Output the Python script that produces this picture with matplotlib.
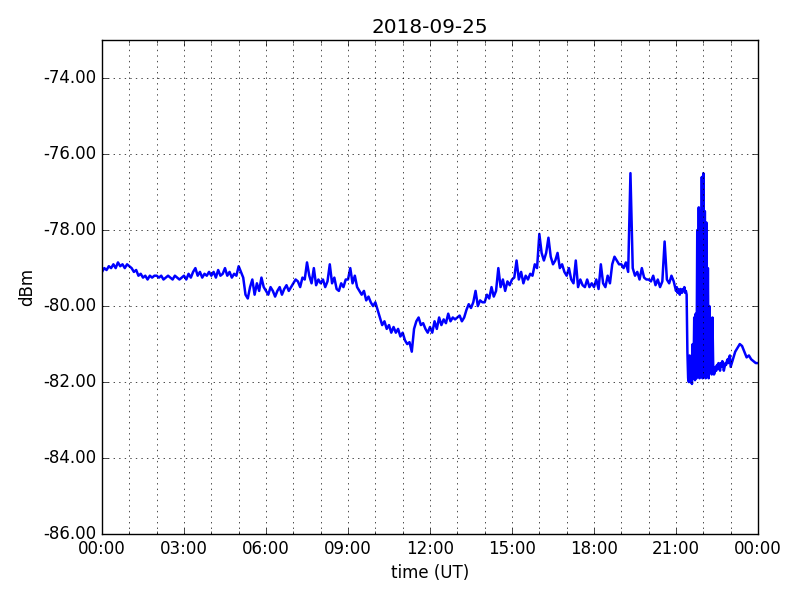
import numpy as np
import matplotlib
matplotlib.use('Agg')
import matplotlib.pyplot as plt
from matplotlib.ticker import MultipleLocator, FuncFormatter, FormatStrFormatter

plt.style.use('classic')

title = '2018-09-25'

# signal level per hour of the day (dBm), sampled evenly within each hour
hourly = [
    [-79.1, -79.0, -79.05, -78.95, -79.0, -78.9, -79.0, -78.85, -78.95, -78.9, -79.0, -78.9],
    [-78.95, -79.0, -79.1, -79.05, -79.2, -79.15, -79.25, -79.2, -79.3, -79.2, -79.25, -79.2],
    [-79.2, -79.25, -79.2, -79.3, -79.25, -79.2, -79.25, -79.3, -79.2, -79.25, -79.3, -79.25],
    [-79.2, -79.3, -79.15, -79.25, -79.1, -79.0, -79.2, -79.1, -79.25, -79.15, -79.2, -79.1],
    [-79.2, -79.1, -79.25, -79.05, -79.2, -79.15, -79.0, -79.2, -79.1, -79.25, -79.15, -79.2],
    [-78.95, -79.1, -79.25, -79.7, -79.8, -79.5, -79.3, -79.7, -79.4, -79.6, -79.25, -79.5],
    [-79.6, -79.7, -79.5, -79.6, -79.75, -79.6, -79.5, -79.7, -79.55, -79.45, -79.6, -79.5],
    [-79.4, -79.3, -79.35, -79.5, -79.25, -79.3, -78.85, -79.2, -79.4, -79.0, -79.45, -79.3],
    [-79.4, -79.3, -79.5, -79.35, -78.9, -79.4, -79.25, -79.55, -79.6, -79.4, -79.5, -79.3],
    [-79.3, -79.0, -79.4, -79.2, -79.5, -79.6, -79.7, -79.6, -79.85, -79.75, -79.9, -80.0],
    [-79.9, -80.1, -80.3, -80.5, -80.4, -80.6, -80.5, -80.7, -80.55, -80.7, -80.6, -80.8],
    [-80.7, -80.9, -81.0, -80.95, -81.2, -80.6, -80.4, -80.3, -80.5, -80.45, -80.6, -80.7],
    [-80.55, -80.7, -80.4, -80.6, -80.3, -80.5, -80.35, -80.45, -80.2, -80.4, -80.3, -80.35],
    [-80.3, -80.25, -80.4, -80.3, -80.1, -79.95, -80.05, -79.9, -79.6, -80.0, -79.85, -79.9],
    [-79.9, -79.7, -79.8, -79.5, -79.75, -79.6, -79.0, -79.5, -79.3, -79.6, -79.35, -79.45],
    [-79.3, -79.25, -78.8, -79.3, -79.1, -79.4, -79.2, -79.3, -79.15, -79.2, -78.9, -79.0],
    [-78.1, -78.6, -78.8, -78.6, -78.2, -78.7, -78.9, -78.8, -78.6, -79.0, -78.9, -79.1],
    [-79.2, -79.0, -79.3, -79.4, -78.8, -79.5, -79.3, -79.45, -79.5, -79.3, -79.5, -79.4],
    [-79.5, -79.3, -79.55, -78.9, -79.4, -79.5, -79.2, -79.4, -78.9, -78.7, -78.8, -78.9],
    [-78.9, -79.0, -78.85, -79.1, -76.5, -79.0, -79.2, -79.1, -79.3, -79.0, -79.25, -79.3],
    [-79.3, -79.35, -79.2, -79.45, -79.3, -79.5, -79.35, -78.3, -79.3, -79.4, -79.2, -79.35],
    [-79.6, -79.5, -79.65, -79.55, -79.6, -79.7, -79.55, -79.6, -79.65, -79.55,
     -79.6, -79.5, -79.65, -79.6, -79.7,
     -81.2, -81.9, -82.0, -81.3, -82.0, -81.6, -82.05, -81.0, -81.9, -80.3, -81.95,
     -80.2, -81.9, -78.0, -81.8, -77.4, -81.9, -77.5, -81.8, -76.6, -81.9],
    [-76.5, -81.8, -77.5, -81.9, -77.8, -81.8, -79.0, -81.9, -80.0, -81.7, -80.8, -81.8,
     -80.3, -81.6, -81.8,
     -81.75, -81.6, -81.7, -81.55, -81.65, -81.5, -81.6, -81.7, -81.5, -81.6, -81.45,
     -81.55, -81.7, -81.6, -81.5, -81.55, -81.45, -81.4, -81.5, -81.35, -81.3],
    [-81.6, -81.4, -81.2, -81.1, -81.0, -81.05, -81.2, -81.35, -81.3, -81.4, -81.45, -81.5],
]
last_value = -81.5

t = []
v = []
for h, vals in enumerate(hourly):
    n = len(vals)
    t.extend(h + np.arange(n) / n)
    v.extend(vals)
t.append(24.0)
v.append(last_value)

fig = plt.figure(figsize=(8, 6), dpi=100, facecolor='white')
ax = fig.add_subplot(111)
fig.subplots_adjust(left=0.1275, right=0.9475, top=0.933, bottom=0.11)

ax.plot(t, v, color='b', linewidth=1.8)

ax.set_xlim(0, 24)
ax.set_ylim(-86, -73)
ax.xaxis.set_major_locator(MultipleLocator(3))
ax.xaxis.set_minor_locator(MultipleLocator(1))
ax.xaxis.set_major_formatter(FuncFormatter(lambda x, p: '%02d:00' % (int(round(x)) % 24)))
ax.yaxis.set_major_locator(MultipleLocator(2))
ax.yaxis.set_major_formatter(FormatStrFormatter('%.2f'))
ax.grid(True, which='both', axis='x', color='k', linestyle=':')
ax.grid(True, which='major', axis='y', color='k', linestyle=':')

ax.set_title(title)
ax.set_xlabel('time (UT)')
ax.set_ylabel('dBm')

fig.savefig('out.png', dpi=100, facecolor='white')
